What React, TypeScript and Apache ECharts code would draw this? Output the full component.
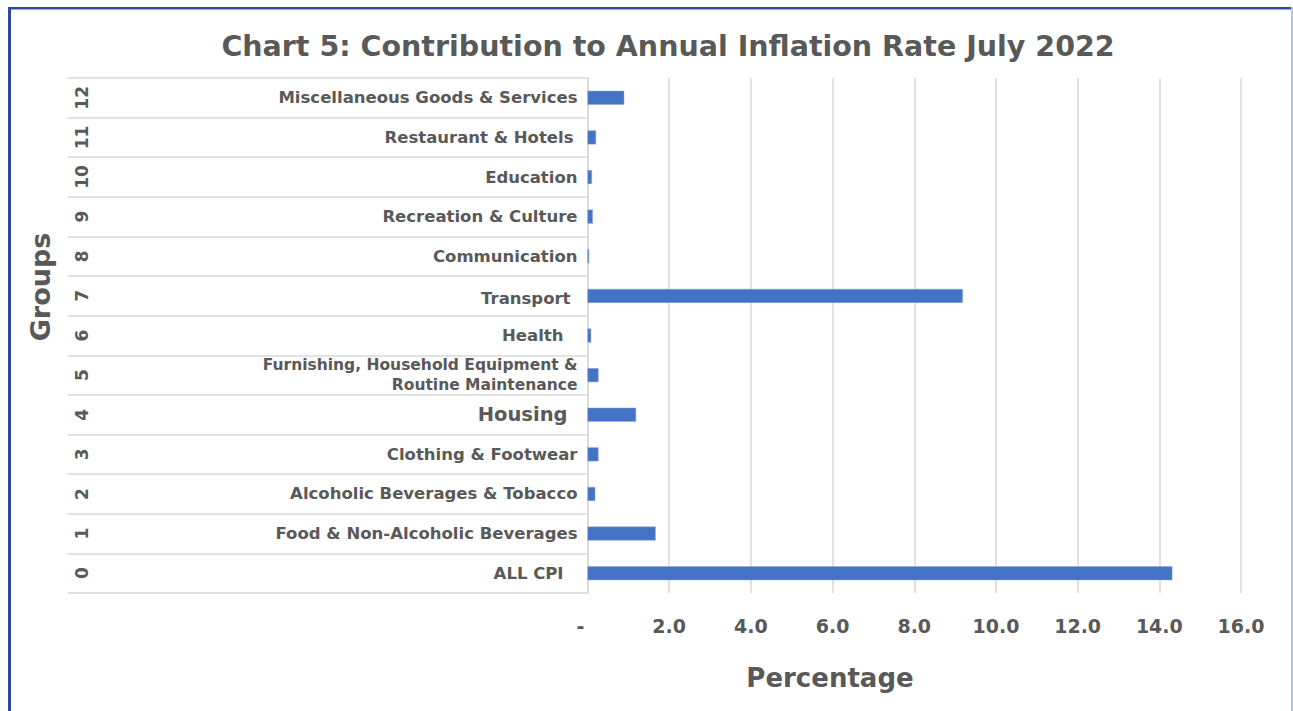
import React, { useEffect, useRef } from "react";
import * as echarts from "echarts";

const categories = [
  "ALL CPI",
  "Food & Non-Alcoholic Beverages",
  "Alcoholic Beverages & Tobacco",
  "Clothing & Footwear",
  "Housing",
  "Furnishing, Household Equipment &\nRoutine Maintenance",
  "Health",
  "Transport",
  "Communication",
  "Recreation & Culture",
  "Education",
  "Restaurant & Hotels",
  "Miscellaneous Goods & Services",
];
const groupNumbers = ["0", "1", "2", "3", "4", "5", "6", "7", "8", "9", "10", "11", "12"];
const values = [14.32, 1.67, 0.19, 0.27, 1.19, 0.27, 0.09, 9.19, 0.04, 0.13, 0.11, 0.21, 0.9];
const xTicks = { min: 0, max: 16, interval: 2 };

const titleText = "Chart 5: Contribution to Annual Inflation Rate July 2022";
const xName = "Percentage";
const yName = "Groups";

const FONT = "DejaVu Sans";
const TXT = "#595959";

// right padding (px) of a few labels, as in the reference
const labelPad: Record<string, number> = { "ALL CPI": 14, Health: 14, Transport: 7, Housing: 10, "Restaurant & Hotels": 4 };

export default function App() {
  const ref = useRef<HTMLDivElement>(null);
  useEffect(() => {
    if (!ref.current) return;
    const chart = echarts.init(ref.current, null, { renderer: "svg" });
    chart.setOption({
      animation: false,
      backgroundColor: "#ffffff",
      textStyle: { fontFamily: FONT },
      title: {
        text: titleText,
        left: 663,
        top: 27,
        textAlign: "center",
        textStyle: { fontFamily: FONT, fontWeight: "bold", fontSize: 28.5, color: TXT },
      },
      grid: { left: 587.5, right: 52, top: 78, bottom: 118 },
      xAxis: {
        type: "value",
        min: xTicks.min,
        max: xTicks.max,
        interval: xTicks.interval,
        axisLine: { show: false },
        axisTick: { show: false },
        splitLine: { show: true, lineStyle: { color: "#d9d9d9", width: 1.5 } },
        axisLabel: {
          margin: 23,
          fontFamily: FONT,
          fontWeight: "bold",
          fontSize: 19,
          color: TXT,
          formatter: (v: number) => (v === 0 ? "{dash|-}" : v.toFixed(1)),
          rich: { dash: { fontFamily: FONT, fontWeight: "bold", fontSize: 19, color: TXT, padding: [0, 14, 0, 0] } },
        },
      },
      yAxis: [
        {
          type: "category",
          data: categories,
          position: "left",
          axisLine: { show: true, lineStyle: { color: "#d9d9d9", width: 1.5 } },
          axisTick: { show: true, length: 520, lineStyle: { color: "#d9d9d9", width: 1.5 } },
          axisLabel: {
            margin: 10,
            fontFamily: FONT,
            fontWeight: "bold",
            fontSize: 16.5,
            color: TXT,
            formatter: (v: string) => {
              if (v === "Housing") return "{big|" + v + "}";
              if (v.indexOf("\n") >= 0) return v.split("\n").map((s) => "{small|" + s + "}").join("\n");
              if (labelPad[v]) return "{p" + labelPad[v] + "|" + v + "}";
              return v;
            },
            rich: {
              big: { fontFamily: FONT, fontWeight: "bold", fontSize: 19.5, color: TXT, padding: [0, 10, 0, 0] },
              small: { fontFamily: FONT, fontWeight: "bold", fontSize: 15.5, color: TXT, lineHeight: 20 },
              p14: { fontFamily: FONT, fontWeight: "bold", fontSize: 16.5, color: TXT, padding: [0, 14, 0, 0] },
              p7: { fontFamily: FONT, fontWeight: "bold", fontSize: 16.5, color: TXT, padding: [6, 7, 0, 0] },
              p4: { fontFamily: FONT, fontWeight: "bold", fontSize: 16.5, color: TXT, padding: [0, 4, 0, 0] },
            },
          },
        },
        {
          type: "category",
          data: groupNumbers,
          position: "left",
          offset: 497,
          axisLine: { show: false },
          axisTick: { show: false },
          axisLabel: {
            rotate: 90,
            margin: 0,
            fontFamily: FONT,
            fontWeight: "bold",
            fontSize: 17,
            color: TXT,
          },
        },
      ],
      series: [
        {
          type: "bar",
          data: values,
          yAxisIndex: 0,
          barWidth: 14,
          itemStyle: { color: "#4472C4", borderColor: "#8eaadb", borderWidth: 0.5 },
        },
      ],
      graphic: [
        { type: "rect", shape: { x: 8, y: 7, width: 3, height: 710 }, style: { fill: "#2E4A9E" } },
        { type: "rect", shape: { x: 8, y: 7, width: 1290, height: 2.5 }, style: { fill: "#2E4A9E" } },
        { type: "rect", shape: { x: 1291, y: 7, width: 2, height: 710 }, style: { fill: "#B7C3E6" } },
        {
          type: "text",
          x: 830,
          y: 678,
          style: { text: xName, fontFamily: FONT, fontWeight: "bold", fontSize: 26, fill: TXT, align: "center", verticalAlign: "middle" },
        },
        {
          type: "text",
          x: 40,
          y: 287,
          rotation: Math.PI / 2,
          style: { text: yName, fontFamily: FONT, fontWeight: "bold", fontSize: 27, fill: TXT, align: "center", verticalAlign: "middle" },
        },
      ],
    });
    return () => chart.dispose();
  }, []);
  return <div ref={ref} style={{ position: "fixed", left: 0, top: 0, width: 1293, height: 711 }} />;
}
